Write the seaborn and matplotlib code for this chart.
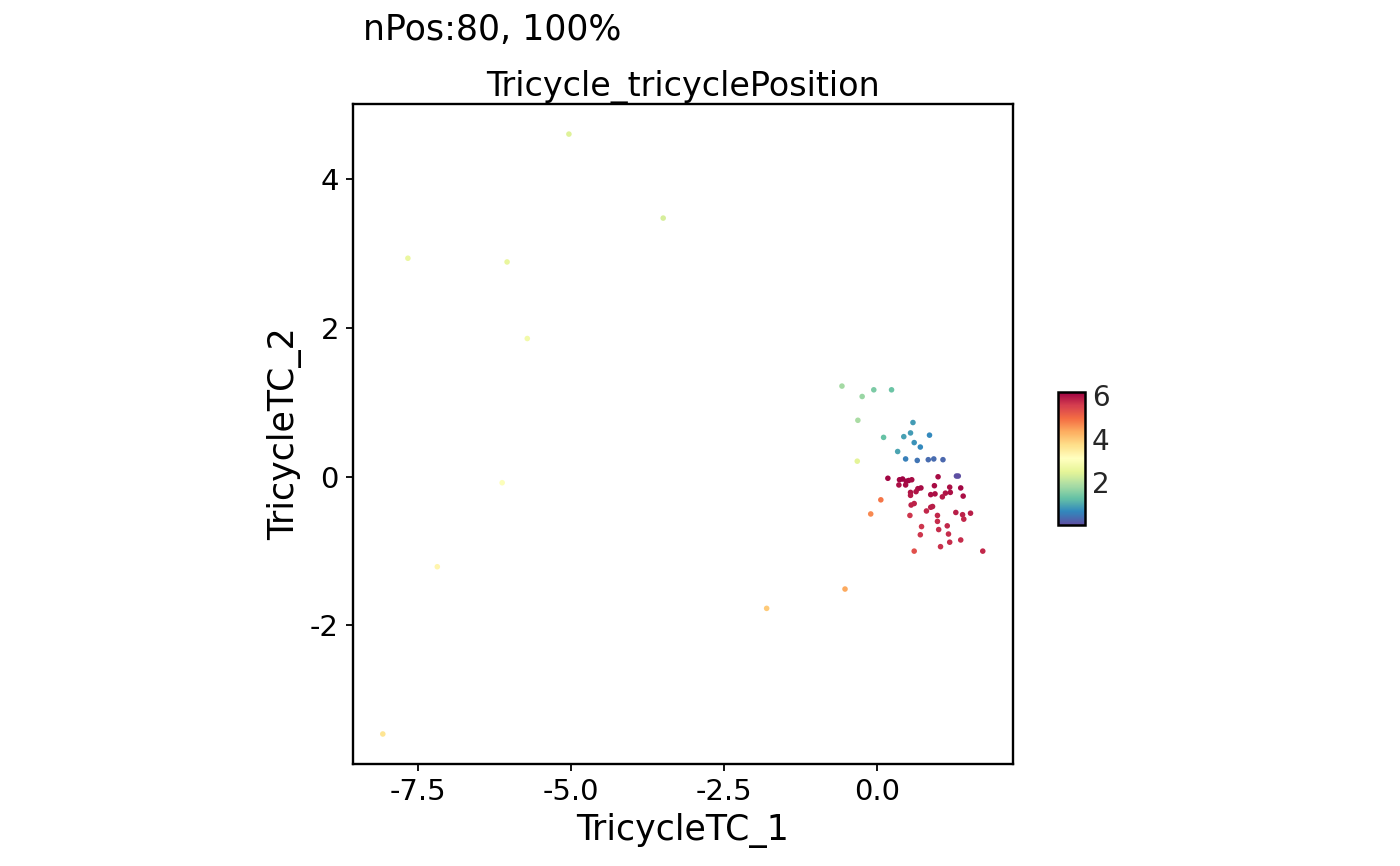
import numpy as np
import pandas as pd
import matplotlib
import matplotlib.pyplot as plt
import seaborn as sns

# coordenadas Tricycle
tc1 = [-5.03, -3.49, -7.66, -6.04, -5.71, -6.12, -7.18, -8.07, -1.80, -0.52,
       -0.57, -0.24, -0.05, 0.24, -0.31, 0.59, 0.11, 0.55, 0.44, 0.86,
       0.61, 0.71, 0.34, -0.32, 0.47, 0.66, 0.84, 0.93, 1.08, 1.30,
       1.33, 0.18, 1.00, 0.37, 0.42, 0.48, 0.52, 0.57, 0.36, 0.47,
       0.94, 1.19, 1.37, 0.67, 0.72, 0.64, 0.55, 0.55, 0.88, 0.95,
       1.12, 1.20, 1.07, 1.41, 0.065, 0.61, 0.56, 0.88, 0.91, 0.81,
       -0.10, 0.54, 0.99, 1.29, 1.40, 1.53, 1.42, 0.99, 0.73, 1.15,
       1.01, 1.17, 0.71, 1.37, 1.19, 1.04, 0.61, 1.73]
tc2 = [4.61, 3.48, 2.94, 2.89, 1.86, -0.08, -1.21, -3.46, -1.77, -1.51,
       1.22, 1.08, 1.17, 1.17, 0.76, 0.73, 0.53, 0.59, 0.54, 0.56,
       0.46, 0.40, 0.34, 0.21, 0.24, 0.22, 0.23, 0.24, 0.23, 0.01,
       0.01, -0.02, 0.00, -0.04, -0.03, -0.06, -0.05, -0.04, -0.11, -0.11,
       -0.12, -0.14, -0.15, -0.16, -0.15, -0.20, -0.21, -0.25, -0.24, -0.23,
       -0.22, -0.21, -0.27, -0.26, -0.31, -0.36, -0.38, -0.41, -0.40, -0.46,
       -0.50, -0.52, -0.52, -0.48, -0.51, -0.49, -0.57, -0.60, -0.67, -0.66,
       -0.71, -0.77, -0.78, -0.85, -0.88, -0.94, -1.00, -1.00]
position = [2.4, 2.3, 2.6, 2.55, 2.75, 3.0, 3.3, 3.6, 3.95, 4.35,
            1.8, 1.7, 1.45, 1.3, 1.85, 0.85, 1.25, 0.85, 0.9, 0.65,
            0.75, 0.65, 0.95, 2.45, 0.55, 0.45, 0.35, 0.35, 0.3, 0.05,
            0.02, 6.1, 6.05, 6.1, 6.15, 6.08, 6.1, 6.05, 6.0, 6.05,
            6.05, 6.0, 6.1, 6.0, 6.05, 5.95, 5.95, 5.9, 6.0, 6.0,
            5.95, 6.0, 5.9, 6.0, 4.85, 5.8, 5.8, 5.85, 5.85, 5.75,
            4.65, 5.6, 5.75, 5.85, 5.8, 5.85, 5.75, 5.7, 5.6, 5.75,
            5.7, 5.7, 5.6, 5.7, 5.7, 5.65, 5.3, 5.75]

df = pd.DataFrame({'TricycleTC_1': tc1, 'TricycleTC_2': tc2, 'pos': position})

sns.set_theme(style='white')
plt.rcParams['font.family'] = ['DejaVu Sans']
plt.rcParams['axes.unicode_minus'] = False
plt.rcParams['text.color'] = 'black'

fig = plt.figure(figsize=(14, 8.66), dpi=100)
ax = fig.add_axes([0.252, 0.1178, 0.4714, 0.762])

vmin, vmax = min(position), max(position)
sns.scatterplot(data=df, x='TricycleTC_1', y='TricycleTC_2', hue='pos',
                palette='Spectral_r', hue_norm=(vmin, vmax), s=16,
                linewidth=0, legend=False, ax=ax)

for sp in ax.spines.values():
    sp.set_visible(True)
    sp.set_color('black')
    sp.set_linewidth(1.7)
ax.tick_params(direction='out', length=5, width=1.3, color='black', pad=5,
               labelsize=21, labelcolor='black', bottom=True, left=True)
ax.set_xticks([-7.5, -5.0, -2.5, 0.0])
ax.set_xticklabels(['-7.5', '-5.0', '-2.5', '0.0'])
ax.set_yticks([-2, 0, 2, 4])
ax.set_xlabel('TricycleTC_1', fontsize=25, color='black', labelpad=5)
ax.set_ylabel('TricycleTC_2', fontsize=25, color='black', labelpad=6)
ax.set_title('Tricycle_tricyclePosition', fontsize=24, color='black', pad=6)

fig.text(363 / 1400, 1 - 30 / 866, 'nPos:80, 100%', fontsize=25, va='center', ha='left')

# barra de color
cax = fig.add_axes([0.7557, 0.3938, 0.0193, 0.1536])
sm = matplotlib.cm.ScalarMappable(cmap='Spectral_r',
                                  norm=matplotlib.colors.Normalize(vmin, vmax))
cb = fig.colorbar(sm, cax=cax, ticks=[2, 4, 6])
cb.outline.set_linewidth(1.8)
cb.outline.set_edgecolor('black')
cax.tick_params(labelsize=20, length=4, width=1, color='black', direction='in', pad=5)
cb.ax.yaxis.set_ticks_position('both')
cb.ax.tick_params(labelleft=False, labelright=True)

plt.savefig('out.png', dpi=100)
